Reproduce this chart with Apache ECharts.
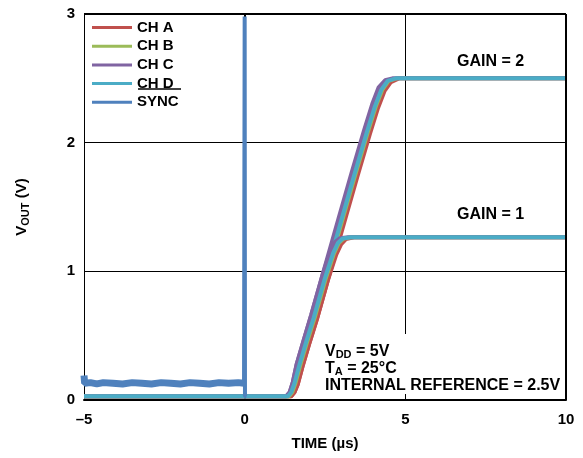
<!DOCTYPE html>
<html>
<head>
<meta charset="utf-8">
<script src="https://cdn.jsdelivr.net/npm/echarts@6/dist/echarts.min.js"></script>
<style>
  html, body { margin: 0; padding: 0; background: #fff; }
  #chart { width: 583px; height: 458px; }
</style>
</head>
<body>
<div id="chart"></div>
<script>
// 数据
var xTicks = [-5, 0, 5, 10];
var yTicks = [0, 1, 2, 3];

// SYNC: 0 之前约 0.13V 的噪声带，0 处尖峰到 3V
var syncBase = [[-5, 0.19], [-4.98, 0.13], [-4.8, 0.135], [-4.6, 0.125], [-4.4, 0.135], [-4.1, 0.13],
  [-3.8, 0.125], [-3.5, 0.135], [-3.2, 0.13], [-2.9, 0.125], [-2.6, 0.135], [-2.3, 0.13],
  [-2.0, 0.125], [-1.7, 0.135], [-1.4, 0.13], [-1.1, 0.125], [-0.8, 0.135], [-0.5, 0.13], [-0.2, 0.135],
  [-0.02, 0.13]];
var syncSpike = [[-0.02, 0.13], [0, 2.98], [0.01, 0.03], [0.05, 0.03]];

// GAIN = 2
var chA2 = [[-5, 0.03], [1.45, 0.03], [1.55, 0.06], [1.65, 0.12], [1.8, 0.26], [2.0, 0.43], [2.25, 0.63], [2.6, 0.94],
  [3.1, 1.38], [3.5, 1.73], [3.9, 2.07], [4.15, 2.27], [4.35, 2.4], [4.55, 2.47], [4.8, 2.5], [10, 2.5]];
var chB2 = [[-5, 0.03], [1.38, 0.03], [1.48, 0.06], [1.58, 0.13], [1.73, 0.27], [1.93, 0.44], [2.18, 0.64], [2.53, 0.95],
  [3.03, 1.39], [3.43, 1.74], [3.83, 2.08], [4.08, 2.28], [4.28, 2.41], [4.48, 2.48], [4.73, 2.5], [10, 2.5]];
var chC2 = [[-5, 0.03], [1.3, 0.03], [1.4, 0.06], [1.5, 0.14], [1.62, 0.28], [1.82, 0.45], [2.07, 0.66], [2.42, 0.97],
  [2.92, 1.41], [3.32, 1.76], [3.72, 2.1], [3.97, 2.3], [4.17, 2.43], [4.37, 2.485], [4.6, 2.5], [10, 2.5]];
var chD2 = [[-5, 0.03], [1.35, 0.03], [1.45, 0.06], [1.55, 0.13], [1.7, 0.27], [1.9, 0.44], [2.15, 0.64], [2.5, 0.95],
  [3.0, 1.39], [3.4, 1.74], [3.8, 2.08], [4.05, 2.28], [4.25, 2.41], [4.45, 2.48], [4.7, 2.5], [10, 2.5]];

// GAIN = 1
var chA1 = [[-5, 0.03], [1.45, 0.03], [1.55, 0.06], [1.65, 0.12], [1.8, 0.26], [2.0, 0.43], [2.25, 0.63], [2.6, 0.94],
  [2.85, 1.13], [3.0, 1.21], [3.15, 1.25], [3.4, 1.265], [10, 1.265]];
var chB1 = [[-5, 0.03], [1.38, 0.03], [1.48, 0.06], [1.58, 0.13], [1.73, 0.27], [1.93, 0.44], [2.18, 0.64], [2.53, 0.95],
  [2.78, 1.14], [2.93, 1.22], [3.08, 1.255], [3.33, 1.265], [10, 1.265]];
var chC1 = [[-5, 0.03], [1.3, 0.03], [1.4, 0.06], [1.5, 0.14], [1.62, 0.28], [1.82, 0.45], [2.07, 0.66], [2.42, 0.97],
  [2.67, 1.16], [2.82, 1.23], [2.97, 1.258], [3.22, 1.265], [10, 1.265]];
var chD1 = [[-5, 0.03], [1.35, 0.03], [1.45, 0.06], [1.55, 0.13], [1.7, 0.27], [1.9, 0.44], [2.15, 0.64], [2.5, 0.95],
  [2.75, 1.14], [2.9, 1.22], [3.05, 1.255], [3.3, 1.265], [10, 1.265]];

var colA = '#c0504d', colB = '#9bbb59', colC = '#8064a2', colD = '#4bacc6', colSync = '#4f81bd';
var font = 'Liberation Sans, Arial, sans-serif';

function trace(name, data, color, width) {
    return {
        name: name,
        type: 'line',
        data: data,
        showSymbol: false,
        symbol: 'none',
        animation: false,
        color: color,
        lineStyle: { color: color, width: width || 4 },
        z: 3
    };
}

var chart = echarts.init(document.getElementById('chart'));

var option = {
    backgroundColor: '#fff',
    animation: false,
    grid: { left: 84, right: 17, top: 14, bottom: 58 },
    legend: {
        orient: 'vertical',
        left: 92,
        top: 20,
        padding: 0,
        icon: 'rect',
        itemWidth: 40,
        itemHeight: 3,
        itemGap: 3.7,
        data: ['CH A', 'CH B', 'CH C', 'CH D', 'SYNC'],
        textStyle: { fontFamily: font, fontWeight: 'bold', fontSize: 15, color: '#000', lineHeight: 14 },
        selectedMode: false
    },
    xAxis: {
        type: 'value',
        min: -5, max: 10, interval: 5,
        name: 'TIME (µs)',
        nameLocation: 'middle',
        nameGap: 36,
        nameTextStyle: { fontFamily: font, fontWeight: 'bold', fontSize: 15, color: '#000' },
        axisLine: { show: true, onZero: false, lineStyle: { color: '#000', width: 2 } },
        axisTick: { show: true, inside: true, length: 5, lineStyle: { color: '#000' } },
        axisLabel: {
            fontFamily: font, fontWeight: 'bold', fontSize: 15, color: '#000', margin: 12,
            formatter: function (v) { return String(v).replace('-', '–'); }
        },
        splitLine: { show: true, lineStyle: { color: '#000', width: 1 } }
    },
    yAxis: {
        type: 'value',
        min: 0, max: 3, interval: 1,
        name: '{b|V}{s|OUT}{b| (V)}',
        nameLocation: 'middle',
        nameGap: 53,
        nameRotate: 90,
        nameTextStyle: {
            rich: {
                b: { fontFamily: font, fontWeight: 'bold', fontSize: 15, color: '#000', lineHeight: 18 },
                s: { fontFamily: font, fontWeight: 'bold', fontSize: 11, color: '#000', lineHeight: 18, padding: [7, 0, 0, 0] }
            }
        },
        axisLine: { show: true, lineStyle: { color: '#000', width: 2 } },
        axisTick: { show: true, inside: false, length: 3, lineStyle: { color: '#000' } },
        axisLabel: { fontFamily: font, fontWeight: 'bold', fontSize: 15, color: '#000', margin: 9 },
        splitLine: { show: true, lineStyle: { color: '#000', width: 1 } }
    },
    series: [
        trace('CH A', chA2, colA),
        trace('CH B', chB2, colB),
        trace('CH C', chC2, colC),
        trace('CH D', chD2, colD),
        trace('CH A', chA1, colA),
        trace('CH B', chB1, colB),
        trace('CH C', chC1, colC),
        trace('CH D', chD1, colD),
        trace('SYNC', syncSpike, colSync, 4),
        trace('SYNC', syncBase, colSync, 7),
        // 右边框和上边框
        {
            type: 'line', data: [], silent: true,
            markLine: {
                silent: true, symbol: 'none', animation: false, label: { show: false },
                lineStyle: { color: '#000', width: 2, type: 'solid' },
                data: [[{ coord: [10, 0] }, { coord: [10, 3] }], [{ coord: [-5, 3] }, { coord: [10, 3] }]]
            }
        }
    ],
    graphic: [
        { type: 'text', left: 457, top: 54, style: { text: 'GAIN = 2', font: 'bold 16px ' + font, fill: '#000' } },
        { type: 'text', left: 457, top: 207, style: { text: 'GAIN = 1', font: 'bold 16px ' + font, fill: '#000' } },
        { type: 'rect', shape: { x: 322, y: 334, width: 241, height: 60 }, style: { fill: '#fff' }, z: 50 },
        {
            type: 'text', left: 325, top: 343, z: 51,
            style: {
                text: '{b|V}{s|DD}{b| = 5V}\n{b|T}{s|A}{b| = 25°C}\n{b|INTERNAL REFERENCE = 2.5V}',
                rich: {
                    b: { font: 'bold 16px ' + font, fill: '#000', lineHeight: 17 },
                    s: { font: 'bold 11px ' + font, fill: '#000', lineHeight: 17, padding: [6, 0, 0, 0] }
                }
            }
        },
        { type: 'line', shape: { x1: 138, y1: 89, x2: 181, y2: 89 }, style: { stroke: '#000', lineWidth: 1.5 }, z: 60 }
    ]
};

chart.setOption(option);
</script>
</body>
</html>
